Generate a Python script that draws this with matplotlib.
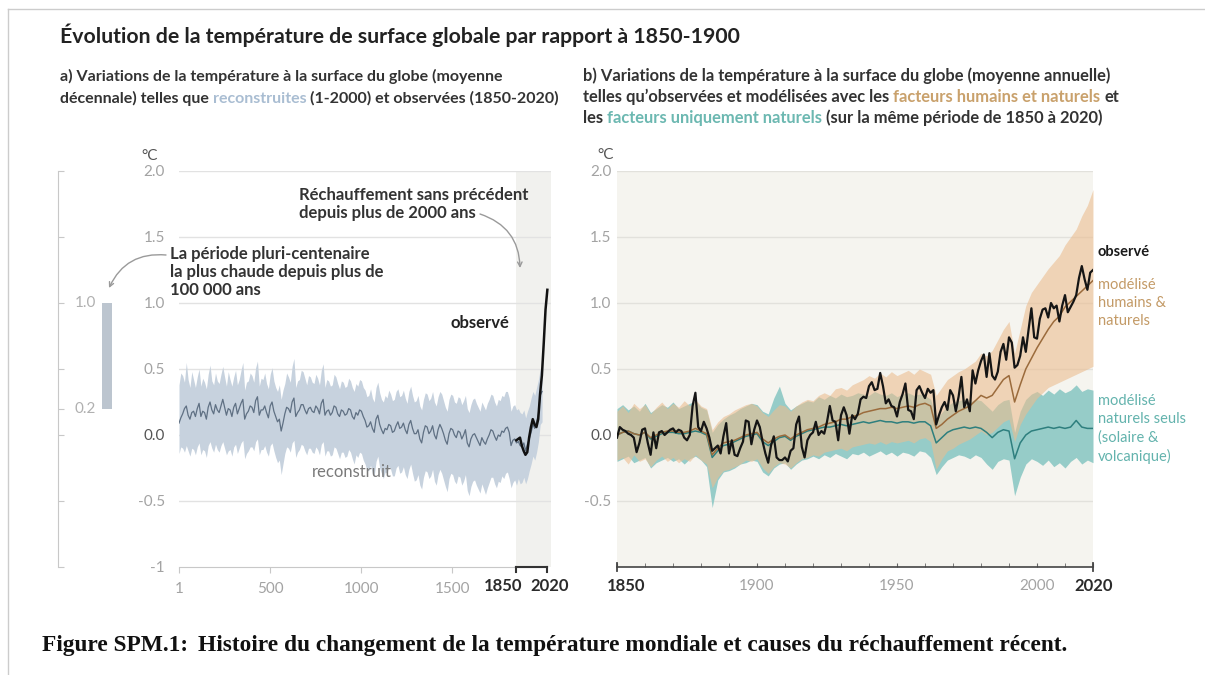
import numpy as np
import matplotlib
matplotlib.use("Agg")
import matplotlib.pyplot as plt
from matplotlib.lines import Line2D
from matplotlib.patches import FancyArrowPatch

# ---- data: panel a (reconstruction, decadal, 1-2000) ----
recon_years = np.arange(1, 2000, 10)
recon_mean = [
    0.09, 0.13, 0.16, 0.20, 0.22, 0.15, 0.12, 0.17, 0.18, 0.14, 0.20, 0.24, 0.14, 0.18, 0.17, 0.12, 0.21, 0.25, 0.19, 0.16,
    0.23, 0.19, 0.17, 0.22, 0.27, 0.21, 0.15, 0.20, 0.19, 0.14, 0.21, 0.24, 0.16, 0.20, 0.24, 0.27, 0.12, 0.16, 0.18, 0.22,
    0.21, 0.17, 0.26, 0.29, 0.15, 0.19, 0.19, 0.22, 0.17, 0.13, 0.22, 0.25, 0.18, 0.14, 0.10, 0.12, 0.03, 0.09, 0.16, 0.21,
    0.20, 0.17, 0.25, 0.28, 0.14, 0.17, 0.19, 0.23, 0.23, 0.19, 0.16, 0.20, 0.21, 0.18, 0.17, 0.22, 0.20, 0.16, 0.24, 0.27,
    0.15, 0.18, 0.19, 0.15, 0.17, 0.22, 0.21, 0.16, 0.14, 0.19, 0.18, 0.15, 0.16, 0.20, 0.19, 0.14, 0.12, 0.17, 0.15, 0.19,
    0.18, 0.14, 0.11, 0.06, 0.07, 0.10, 0.05, 0.02, 0.12, 0.15, 0.08, 0.04, 0.01, 0.05, 0.04, 0.08, 0.07, 0.02, 0.03, 0.07,
    0.10, 0.05, 0.06, 0.09, 0.04, 0.01, 0.08, 0.11, 0.05, 0.01, 0.01, 0.04, -0.03, -0.06, 0.02, 0.07, 0.06, 0.01, 0.03, 0.07,
    0.00, -0.03, 0.04, 0.08, 0.05, 0.01, -0.04, -0.07, 0.01, 0.05, 0.04, 0.00, -0.02, 0.03, 0.02, -0.03, 0.00, 0.04, -0.06, -0.09,
    -0.03, 0.00, 0.01, -0.02, -0.05, -0.08, -0.02, -0.05, -0.07, -0.03, 0.00, 0.04, 0.03, -0.01, -0.04, 0.00, -0.01, 0.03, 0.02, 0.05,
    0.06, 0.02, -0.08, -0.04, -0.03, -0.06, -0.05, -0.08, -0.09, -0.06, -0.12, -0.07, -0.03, 0.02, 0.08, 0.05, 0.10, 0.16, 0.30, 0.33,
]
recon_hi = [
    0.38, 0.47, 0.45, 0.40, 0.55, 0.42, 0.36, 0.48, 0.42, 0.36, 0.44, 0.50, 0.37, 0.43, 0.40, 0.35, 0.46, 0.53, 0.41, 0.38,
    0.47, 0.41, 0.39, 0.46, 0.52, 0.44, 0.37, 0.48, 0.42, 0.37, 0.44, 0.49, 0.38, 0.42, 0.49, 0.55, 0.34, 0.40, 0.41, 0.47,
    0.45, 0.40, 0.51, 0.56, 0.37, 0.43, 0.42, 0.47, 0.39, 0.35, 0.46, 0.51, 0.41, 0.36, 0.33, 0.38, 0.27, 0.34, 0.39, 0.47,
    0.44, 0.40, 0.52, 0.58, 0.36, 0.41, 0.42, 0.49, 0.48, 0.43, 0.38, 0.45, 0.44, 0.40, 0.39, 0.46, 0.43, 0.38, 0.49, 0.54,
    0.36, 0.42, 0.41, 0.37, 0.38, 0.46, 0.44, 0.39, 0.35, 0.41, 0.40, 0.36, 0.37, 0.43, 0.41, 0.36, 0.33, 0.39, 0.37, 0.42,
    0.41, 0.36, 0.34, 0.29, 0.30, 0.35, 0.28, 0.25, 0.36, 0.40, 0.32, 0.27, 0.25, 0.30, 0.28, 0.34, 0.31, 0.26, 0.27, 0.33,
    0.35, 0.29, 0.30, 0.34, 0.28, 0.24, 0.33, 0.37, 0.30, 0.25, 0.26, 0.30, 0.22, 0.19, 0.27, 0.32, 0.31, 0.26, 0.28, 0.33,
    0.25, 0.22, 0.29, 0.33, 0.31, 0.26, 0.21, 0.18, 0.27, 0.31, 0.30, 0.25, 0.24, 0.29, 0.28, 0.23, 0.26, 0.30, 0.20, 0.17,
    0.23, 0.27, 0.28, 0.24, 0.21, 0.18, 0.25, 0.22, 0.19, 0.24, 0.27, 0.31, 0.30, 0.25, 0.22, 0.27, 0.26, 0.30, 0.29, 0.33,
    0.33, 0.28, 0.18, 0.22, 0.23, 0.19, 0.20, 0.17, 0.16, 0.19, 0.13, 0.18, 0.22, 0.28, 0.33, 0.30, 0.36, 0.42, 0.50, 0.48,
]
recon_lo = [
    -0.14, -0.09, -0.10, -0.13, -0.08, -0.12, -0.16, -0.10, -0.11, -0.15, -0.09, -0.06, -0.15, -0.11, -0.12, -0.17, -0.08, -0.05, -0.10, -0.13,
    -0.07, -0.11, -0.13, -0.08, -0.05, -0.10, -0.15, -0.12, -0.11, -0.16, -0.09, -0.07, -0.14, -0.10, -0.06, -0.04, -0.18, -0.14, -0.12, -0.09,
    -0.09, -0.12, -0.05, -0.03, -0.15, -0.11, -0.11, -0.08, -0.13, -0.16, -0.08, -0.06, -0.12, -0.17, -0.21, -0.19, -0.30, -0.22, -0.14, -0.09,
    -0.10, -0.13, -0.06, -0.04, -0.17, -0.13, -0.11, -0.07, -0.08, -0.12, -0.15, -0.10, -0.10, -0.13, -0.14, -0.09, -0.11, -0.15, -0.07, -0.05,
    -0.16, -0.12, -0.12, -0.16, -0.15, -0.09, -0.10, -0.14, -0.18, -0.13, -0.13, -0.17, -0.16, -0.11, -0.13, -0.18, -0.22, -0.15, -0.17, -0.13,
    -0.14, -0.19, -0.22, -0.27, -0.27, -0.23, -0.29, -0.31, -0.20, -0.16, -0.25, -0.29, -0.33, -0.28, -0.29, -0.24, -0.26, -0.31, -0.31, -0.25,
    -0.23, -0.29, -0.28, -0.24, -0.30, -0.33, -0.26, -0.22, -0.29, -0.35, -0.34, -0.30, -0.38, -0.41, -0.32, -0.27, -0.28, -0.33, -0.31, -0.26,
    -0.35, -0.38, -0.30, -0.26, -0.29, -0.34, -0.39, -0.43, -0.33, -0.29, -0.30, -0.35, -0.37, -0.31, -0.32, -0.38, -0.35, -0.30, -0.42, -0.46,
    -0.39, -0.35, -0.34, -0.38, -0.41, -0.44, -0.37, -0.41, -0.45, -0.40, -0.36, -0.32, -0.32, -0.37, -0.40, -0.35, -0.36, -0.31, -0.33, -0.29,
    -0.28, -0.33, -0.40, -0.36, -0.34, -0.38, -0.33, -0.37, -0.36, -0.32, -0.37, -0.33, -0.27, -0.22, -0.16, -0.19, -0.13, -0.05, 0.08, 0.10,
]
obs_dec_years = np.arange(1850, 2021, 10)
obs_dec = [-0.04, -0.03, -0.02, -0.08, -0.12, -0.15, -0.13, -0.02, 0.06,
           0.12, 0.08, 0.06, 0.12, 0.31, 0.45, 0.69, 0.95, 1.10]

# ---- data: panel b (annual, 1850-2020) ----
obs_years = np.arange(1850, 2021)
obs_annual = [
    -0.02, 0.06, 0.04, 0.03, 0.01, 0.00, -0.02, -0.13, -0.06, 0.04,
    0.05, -0.06, -0.15, 0.02, -0.10, 0.02, 0.03, 0.00, 0.02, 0.04,
    0.05, 0.02, 0.04, 0.03, -0.02, -0.04, 0.00, 0.22, 0.32, 0.06,
    0.03, 0.10, 0.05, -0.02, -0.12, -0.10, -0.08, -0.14, -0.01, 0.09,
    -0.14, -0.04, -0.15, -0.16, -0.10, -0.05, 0.11, 0.10, -0.07, 0.04,
    0.11, 0.06, -0.05, -0.14, -0.21, -0.08, -0.01, -0.17, -0.19, -0.19,
    -0.17, -0.20, -0.12, -0.10, 0.08, 0.14, -0.09, -0.17, -0.04, 0.00,
    0.02, 0.10, 0.00, 0.03, 0.01, 0.10, 0.22, 0.11, 0.10, -0.04,
    0.15, 0.21, 0.15, 0.01, 0.15, 0.12, 0.16, 0.27, 0.29, 0.28,
    0.37, 0.40, 0.34, 0.35, 0.47, 0.37, 0.24, 0.27, 0.22, 0.21,
    0.14, 0.25, 0.31, 0.39, 0.19, 0.18, 0.12, 0.34, 0.37, 0.32,
    0.28, 0.35, 0.32, 0.34, 0.08, 0.15, 0.21, 0.25, 0.19, 0.34,
    0.30, 0.18, 0.29, 0.44, 0.21, 0.27, 0.18, 0.49, 0.39, 0.49,
    0.56, 0.61, 0.44, 0.62, 0.45, 0.42, 0.48, 0.63, 0.69, 0.57,
    0.74, 0.70, 0.51, 0.53, 0.60, 0.74, 0.63, 0.80, 0.96, 0.74,
    0.73, 0.88, 0.95, 0.96, 0.89, 1.00, 0.96, 0.98, 0.86, 0.98,
    1.06, 0.93, 0.97, 1.01, 1.06, 1.19, 1.28, 1.18, 1.10, 1.23,
    1.25,
]
mod_years = np.arange(1850, 2021, 2)
hn_mean = [
    0.00, 0.02, 0.03, 0.01, 0.00, 0.02, -0.02, 0.00, 0.02, 0.03,
    0.03, 0.02, 0.02, 0.03, 0.05, 0.03, 0.01, -0.15, -0.10, -0.06,
    -0.05, -0.04, -0.02, 0.00, 0.01, 0.02, -0.03, -0.06, -0.03, -0.01,
    0.00, -0.03, 0.00, 0.02, 0.04, 0.05, 0.06, 0.08, 0.09, 0.10,
    0.12, 0.12, 0.14, 0.15, 0.17, 0.18, 0.19, 0.20, 0.20, 0.21,
    0.20, 0.21, 0.22, 0.21, 0.23, 0.24, 0.22, 0.05, 0.08, 0.12,
    0.15, 0.18, 0.20, 0.22, 0.26, 0.30, 0.28, 0.30, 0.36, 0.42,
    0.45, 0.25, 0.38, 0.50, 0.58, 0.66, 0.73, 0.80, 0.86, 0.90,
    0.97, 1.01, 1.05, 1.09, 1.13, 1.17,
]
hn_hi = [
    0.18, 0.22, 0.17, 0.24, 0.20, 0.23, 0.16, 0.21, 0.25, 0.20,
    0.24, 0.21, 0.26, 0.22, 0.27, 0.22, 0.20, 0.04, 0.10, 0.14,
    0.16, 0.19, 0.21, 0.23, 0.24, 0.22, 0.17, 0.14, 0.19, 0.23,
    0.22, 0.18, 0.22, 0.25, 0.27, 0.26, 0.30, 0.32, 0.30, 0.35,
    0.36, 0.34, 0.38, 0.40, 0.42, 0.45, 0.43, 0.47, 0.44, 0.48,
    0.45, 0.47, 0.49, 0.46, 0.50, 0.48, 0.46, 0.30, 0.36, 0.42,
    0.45, 0.48, 0.50, 0.53, 0.56, 0.62, 0.60, 0.64, 0.72, 0.80,
    0.86, 0.62, 0.80, 0.98, 1.08, 1.14, 1.20, 1.26, 1.31, 1.36,
    1.44, 1.50, 1.56, 1.66, 1.74, 1.86,
]
hn_lo = [
    -0.19, -0.17, -0.22, -0.15, -0.20, -0.18, -0.24, -0.19, -0.16, -0.20,
    -0.17, -0.21, -0.18, -0.20, -0.15, -0.19, -0.22, -0.40, -0.32, -0.27,
    -0.26, -0.24, -0.22, -0.19, -0.20, -0.18, -0.25, -0.29, -0.24, -0.21,
    -0.22, -0.25, -0.21, -0.18, -0.17, -0.15, -0.16, -0.13, -0.12, -0.11,
    -0.10, -0.12, -0.09, -0.08, -0.07, -0.06, -0.07, -0.05, -0.07, -0.05,
    -0.06, -0.05, -0.04, -0.06, -0.03, -0.02, -0.05, -0.26, -0.18, -0.12,
    -0.10, -0.07, -0.05, -0.03, 0.00, 0.03, 0.00, 0.02, 0.06, 0.10,
    0.12, -0.05, 0.08, 0.16, 0.22, 0.28, 0.32, 0.36, 0.38, 0.40,
    0.42, 0.44, 0.46, 0.48, 0.50, 0.52,
]
nat_mean = [
    0.00, 0.02, 0.03, 0.01, 0.00, 0.02, -0.03, -0.01, 0.01, 0.02,
    0.02, 0.01, 0.01, 0.02, 0.03, 0.02, 0.00, -0.17, -0.12, -0.08,
    -0.07, -0.05, -0.03, -0.01, 0.00, 0.01, -0.05, -0.08, -0.05, -0.02,
    -0.01, -0.04, -0.01, 0.01, 0.03, 0.04, 0.05, 0.06, 0.06, 0.07,
    0.08, 0.07, 0.08, 0.09, 0.10, 0.09, 0.10, 0.11, 0.10, 0.10,
    0.09, 0.10, 0.10, 0.09, 0.10, 0.10, 0.07, -0.06, -0.02, 0.02,
    0.04, 0.05, 0.06, 0.05, 0.06, 0.05, 0.02, -0.02, 0.02, 0.04,
    0.03, -0.18, -0.06, 0.00, 0.03, 0.04, 0.05, 0.06, 0.05, 0.06,
    0.05, 0.06, 0.11, 0.06, 0.05, 0.05,
]
nat_hi = [
    0.20, 0.23, 0.19, 0.22, 0.18, 0.24, 0.17, 0.20, 0.23, 0.21,
    0.25, 0.20, 0.22, 0.24, 0.26, 0.21, 0.19, 0.02, 0.08, 0.12,
    0.15, 0.17, 0.20, 0.22, 0.24, 0.23, 0.18, 0.16, 0.28, 0.37,
    0.24, 0.19, 0.22, 0.24, 0.26, 0.25, 0.29, 0.27, 0.30, 0.28,
    0.31, 0.29, 0.30, 0.32, 0.31, 0.30, 0.33, 0.31, 0.30, 0.32,
    0.29, 0.31, 0.32, 0.30, 0.31, 0.30, 0.27, 0.12, 0.17, 0.22,
    0.25, 0.26, 0.27, 0.25, 0.27, 0.26, 0.22, 0.18, 0.23, 0.26,
    0.27, 0.02, 0.18, 0.27, 0.31, 0.33, 0.30, 0.34, 0.31, 0.35,
    0.32, 0.34, 0.38, 0.33, 0.35, 0.34,
]
nat_lo = [
    -0.20, -0.18, -0.16, -0.21, -0.19, -0.17, -0.25, -0.21, -0.19, -0.17,
    -0.20, -0.18, -0.22, -0.18, -0.16, -0.19, -0.24, -0.55, -0.34, -0.28,
    -0.27, -0.25, -0.22, -0.21, -0.19, -0.20, -0.28, -0.31, -0.25, -0.22,
    -0.21, -0.26, -0.22, -0.19, -0.18, -0.16, -0.18, -0.15, -0.17, -0.14,
    -0.16, -0.18, -0.14, -0.15, -0.13, -0.16, -0.14, -0.12, -0.15, -0.13,
    -0.16, -0.13, -0.14, -0.16, -0.12, -0.13, -0.17, -0.30, -0.24, -0.19,
    -0.17, -0.15, -0.16, -0.18, -0.15, -0.17, -0.22, -0.26, -0.20, -0.18,
    -0.19, -0.46, -0.32, -0.22, -0.18, -0.20, -0.23, -0.19, -0.24, -0.21,
    -0.25, -0.20, -0.17, -0.22, -0.19, -0.21,
]

y_ticks = [2.0, 1.5, 1.0, 0.5, 0.0, -0.5, -1.0]
y_labels_a = ["2.0", "1.5", "1.0", "0.5", "0.0", "-0.5", "-1"]
y_labels_b = ["2.0", "1.5", "1.0", "0.5", "0.0", "-0.5", ""]

# ---- figure ----
W, H = 1205, 675
plt.rcParams["font.family"] = ["Lato", "DejaVu Sans"]
fig = plt.figure(figsize=(W / 100, H / 100), dpi=100)
renderer = fig.canvas.get_renderer()

GREY = "#a3a3a3"
DARK = "#2b2b2b"
TXT = "#333333"


def fx(px):
    return px / W


def fy(py):
    return 1 - py / H


def axes_px(x0, y0, x1, y1):
    return fig.add_axes([fx(x0), fy(y1), (x1 - x0) / W, (y1 - y0) / H])


def text_width(s, **kw):
    t = fig.text(0, 0, s, **kw)
    w = t.get_window_extent(renderer).width
    t.remove()
    return w


def rich_line(x, y, parts, **kw):
    # coloured pieces of one line, drawn one after another on the same baseline
    space = text_width("n n", **kw) - text_width("nn", **kw)
    for s, c in parts:
        x += (len(s) - len(s.lstrip(" "))) * space
        t = fig.text(fx(x), fy(y), s.strip(), color=c, va="baseline", **kw)
        x = t.get_window_extent(renderer).x1
        x += (len(s) - len(s.rstrip(" "))) * space


# page frame
fig.add_artist(Line2D([fx(8), 1], [fy(9), fy(9)], color="#cccccc", lw=1))
fig.add_artist(Line2D([fx(8), fx(8)], [0, fy(9)], color="#cccccc", lw=1))

# titles
fig.text(fx(60), fy(35), "Évolution de la température de surface globale par rapport à 1850-1900",
         fontsize=15.3, fontweight="bold", color="#222222", va="center")
sub_a = dict(fontsize=11.5, fontweight="bold")
sub_b = dict(fontsize=11.9, fontweight="bold")
rich_line(60, 81, [("a) Variations de la température à la surface du globe (moyenne", TXT)], **sub_a)
rich_line(60, 103, [("décennale) telles que ", TXT), ("reconstruites", "#a9bdd2"),
                    (" (1-2000) et observées (1850-2020)", TXT)], **sub_a)
rich_line(583, 81, [("b) Variations de la température à la surface du globe (moyenne annuelle)", TXT)], **sub_b)
rich_line(583, 102, [("telles qu’observées et modélisées avec les ", TXT),
                     ("facteurs humains et naturels", "#c9a16c"), (" et", TXT)], **sub_b)
rich_line(583, 123, [("les ", TXT), ("facteurs uniquement naturels", "#6cb8b1"),
                     (" (sur la même période de 1850 à 2020)", TXT)], **sub_b)

# ---- small scale on the far left ----
ax_m = axes_px(58, 171, 130, 567)
ax_m.set_xlim(0, 72)
ax_m.set_ylim(-1, 2)
ax_m.patch.set_alpha(0)
for side in ["top", "right", "bottom"]:
    ax_m.spines[side].set_visible(False)
ax_m.spines["left"].set_color("#c8c8c8")
ax_m.set_xticks([])
ax_m.set_yticks([2.0, 1.5, 1.0, 0.5, 0.2, 0.0, -0.5, -1.0])
ax_m.tick_params(axis="y", direction="in", length=4, color="#c8c8c8", labelleft=False)
ax_m.bar(49, 0.8, bottom=0.2, width=10, color="#bcc5cf")
ax_m.text(27, 1.0, "1.0", ha="center", va="center", fontsize=11, color="#b0b0b0")
ax_m.text(27, 0.2, "0.2", ha="center", va="center", fontsize=11, color="#b0b0b0")

# ---- panel a ----
ax_a = axes_px(179, 171, 551, 567)
ax_a.set_xlim(1, 2040)
ax_a.set_ylim(-1, 2)
ax_a.axvspan(1850, 2040, color="#f1f1ee", lw=0, zorder=0)
for v in y_ticks[:-1]:
    ax_a.axhline(v, color="#e2e2e2", lw=1, zorder=0.5)
ax_a.fill_between(recon_years, recon_lo, recon_hi, color="#c7d2de", lw=0, zorder=1)
ax_a.plot(recon_years, recon_mean, color="#5f7083", lw=0.9, zorder=2)
ax_a.plot(obs_dec_years, obs_dec, color="#111111", lw=1.8, zorder=3)
for side in ["top", "right", "left"]:
    ax_a.spines[side].set_visible(False)
ax_a.spines["bottom"].set_bounds(1, 2020)
ax_a.spines["bottom"].set_color("#c8c8c8")
ax_a.set_yticks(y_ticks, y_labels_a)
ax_a.tick_params(axis="y", length=0, pad=10, labelsize=11, labelcolor=GREY)
ax_a.get_yticklabels()[4].set_color("#555555")
ax_a.set_xticks([1, 500, 1000, 1500], ["1", "500", "1000", "1500"])
ax_a.tick_params(axis="x", direction="out", length=4, color="#c8c8c8", pad=7,
                 labelsize=11, labelcolor=GREY)
ax_a.plot([1850, 2020], [-1, -1], color="#333333", lw=1.5, clip_on=False, zorder=4)
for yr in [1850, 2020]:
    ax_a.plot([yr, yr], [-1, -1.04], color="#333333", lw=1.5, clip_on=False, zorder=4)
fig.text(fx(503), fy(586), "1850", ha="center", va="center", fontsize=12, fontweight="bold", color=DARK)
fig.text(fx(550), fy(586), "2020", ha="center", va="center", fontsize=12, fontweight="bold", color=DARK)
fig.text(fx(150), fy(156), "°C", ha="center", va="center", fontsize=11, color="#555555")

ann = dict(fontsize=12, fontweight="bold", color=TXT, linespacing=1.12)
fig.text(fx(170), fy(272), "La période pluri-centenaire\nla plus chaude depuis plus de\n100 000 ans",
         va="center", **ann)
fig.text(fx(299), fy(204), "Réchauffement sans précédent\ndepuis plus de 2000 ans", va="center", **ann)
fig.text(fx(480), fy(323), "observé", ha="center", va="center", fontsize=12, fontweight="bold", color="#222222")
fig.text(fx(352), fy(472), "reconstruit", ha="center", va="center", fontsize=12, color="#7a7a7a")
arrow = dict(arrowstyle="->", color="#9a9a9a", lw=1, shrinkA=0, shrinkB=0, mutation_scale=8)
fig.add_artist(FancyArrowPatch((166, H - 255), (109, H - 288), transform=None,
                               connectionstyle="arc3,rad=0.35", **arrow))
fig.add_artist(FancyArrowPatch((480, H - 214), (520, H - 268), transform=None,
                               connectionstyle="arc3,rad=-0.35", **arrow))

# ---- panel b ----
ax_b = axes_px(617, 171, 1093, 567)
ax_b.set_xlim(1850, 2020)
ax_b.set_ylim(-1, 2)
ax_b.set_facecolor("#f5f4ef")
for v in y_ticks[:-1]:
    ax_b.axhline(v, color="#e2e1dc", lw=1, zorder=0.5)
ax_b.fill_between(mod_years, nat_lo, nat_hi, color="#96ccc8", lw=0, zorder=1)
ax_b.fill_between(mod_years, hn_lo, hn_hi, color="#ebbd90", alpha=0.6, lw=0, zorder=2)
ax_b.plot(mod_years, nat_mean, color="#2e7f7e", lw=1.1, zorder=3)
ax_b.plot(mod_years, hn_mean, color="#9b6b3c", lw=1.1, zorder=3)
ax_b.plot(obs_years, obs_annual, color="#151515", lw=1.6, zorder=4)
for side in ["top", "right", "left"]:
    ax_b.spines[side].set_visible(False)
ax_b.spines["bottom"].set_color("#444444")
ax_b.spines["bottom"].set_linewidth(1.2)
ax_b.set_yticks(y_ticks, y_labels_b)
ax_b.tick_params(axis="y", length=0, pad=4, labelsize=11, labelcolor=GREY)
ax_b.get_yticklabels()[4].set_color("#555555")
ax_b.set_xticks([1850, 1900, 1950, 2000, 2020], ["", "1900", "1950", "2000", ""])
ax_b.set_xticks(np.arange(1860, 2020, 10), minor=True)
ax_b.tick_params(axis="x", which="both", direction="in", length=3, color="#666666", pad=9,
                 labelsize=11, labelcolor=GREY)
for yr in [1850, 2020]:
    ax_b.plot([yr, yr], [-1.03, -0.97], color="#444444", lw=1.3, clip_on=False, zorder=5)
fig.text(fx(626), fy(586), "1850", ha="center", va="center", fontsize=12, fontweight="bold", color=DARK)
fig.text(fx(1094), fy(586), "2020", ha="center", va="center", fontsize=12, fontweight="bold", color=DARK)
fig.text(fx(606), fy(155), "°C", ha="center", va="center", fontsize=11, color="#555555")

fig.text(fx(1098), fy(252), "observé", va="center", fontsize=10.5, fontweight="bold", color="#1a1a1a")
fig.text(fx(1098), fy(303), "modélisé\nhumains &\nnaturels", va="center", fontsize=10.5,
         color="#c39a66", linespacing=1.4)
fig.text(fx(1098), fy(429), "modélisé\nnaturels seuls\n(solaire &\nvolcanique)", va="center",
         fontsize=10.5, color="#63b3ad", linespacing=1.35)

# ---- caption ----
cap = dict(family=["Liberation Serif", "DejaVu Serif"], fontsize=16.8, fontweight="bold",
           color="#111111", va="center")
fig.text(fx(42), fy(646), "Figure SPM.1:", **cap)
fig.text(fx(198), fy(646),
         "Histoire du changement de la température mondiale et causes du réchauffement récent.", **cap)

fig.savefig("out.png", dpi=100, facecolor="white")
